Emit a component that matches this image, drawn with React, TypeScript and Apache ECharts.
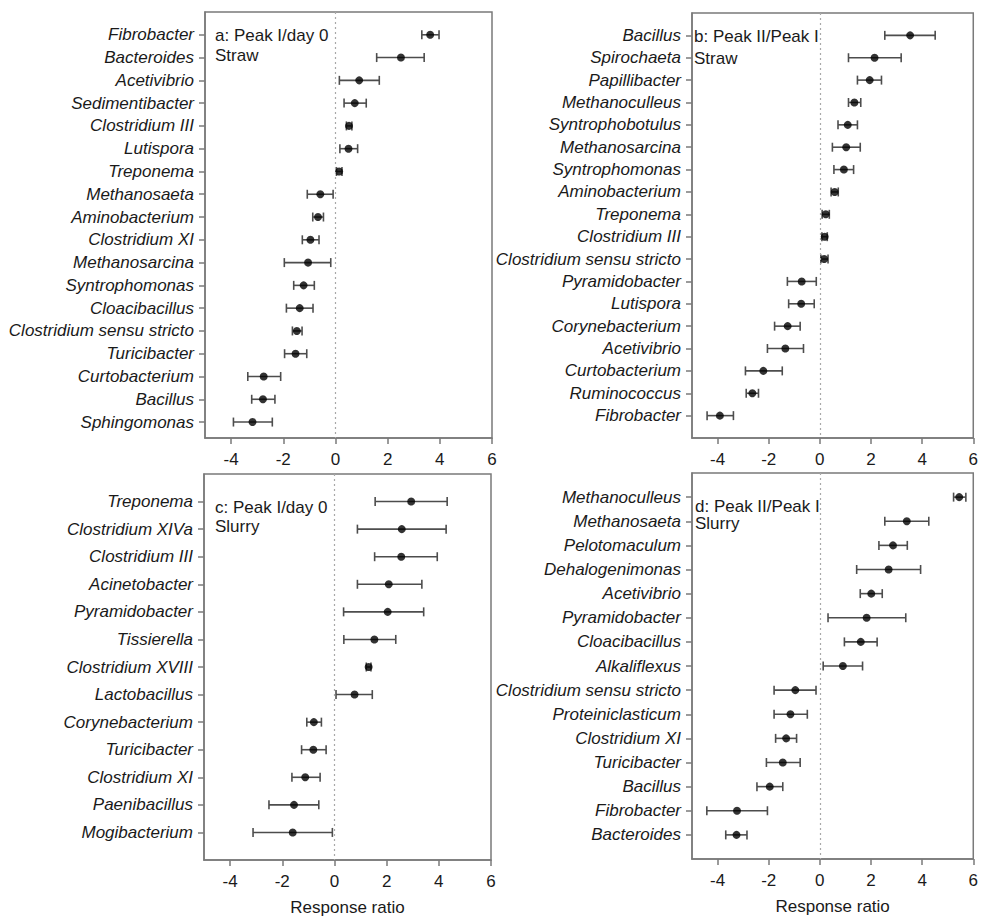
import React, { useEffect, useRef } from "react";
import * as echarts from "echarts";

// Panel a: Peak I/day 0, Straw
const aCats = ["Fibrobacter", "Bacteroides", "Acetivibrio", "Sedimentibacter", "Clostridium III", "Lutispora", "Treponema", "Methanosaeta", "Aminobacterium", "Clostridium XI", "Methanosarcina", "Syntrophomonas", "Cloacibacillus", "Clostridium sensu stricto", "Turicibacter", "Curtobacterium", "Bacillus", "Sphingomonas"];
const aMean = [3.63, 2.51, 0.91, 0.74, 0.52, 0.5, 0.14, -0.58, -0.67, -0.96, -1.05, -1.22, -1.37, -1.48, -1.53, -2.75, -2.78, -3.18];
const aLow = [3.31, 1.58, 0.15, 0.33, 0.42, 0.17, 0.04, -1.08, -0.87, -1.27, -1.96, -1.6, -1.88, -1.65, -1.95, -3.36, -3.21, -3.91];
const aHigh = [3.97, 3.4, 1.68, 1.18, 0.63, 0.85, 0.25, -0.09, -0.46, -0.63, -0.18, -0.81, -0.86, -1.28, -1.1, -2.1, -2.32, -2.42];

// Panel b: Peak II/Peak I, Straw
const bCats = ["Bacillus", "Spirochaeta", "Papillibacter", "Methanoculleus", "Syntrophobotulus", "Methanosarcina", "Syntrophomonas", "Aminobacterium", "Treponema", "Clostridium III", "Clostridium sensu stricto", "Pyramidobacter", "Lutispora", "Corynebacterium", "Acetivibrio", "Curtobacterium", "Ruminococcus", "Fibrobacter"];
const bMean = [3.53, 2.14, 1.95, 1.35, 1.09, 1.03, 0.94, 0.58, 0.23, 0.19, 0.17, -0.71, -0.73, -1.26, -1.35, -2.21, -2.64, -3.91];
const bLow = [2.54, 1.12, 1.47, 1.12, 0.71, 0.49, 0.55, 0.44, 0.09, 0.08, 0.04, -1.27, -1.22, -1.77, -2.05, -2.91, -2.88, -4.41];
const bHigh = [4.51, 3.18, 2.41, 1.6, 1.47, 1.58, 1.32, 0.72, 0.37, 0.29, 0.32, -0.14, -0.22, -0.77, -0.64, -1.47, -2.4, -3.38];

// Panel c: Peak I/day 0, Slurry
const cCats = ["Treponema", "Clostridium XIVa", "Clostridium III", "Acinetobacter", "Pyramidobacter", "Tissierella", "Clostridium XVIII", "Lactobacillus", "Corynebacterium", "Turicibacter", "Clostridium XI", "Paenibacillus", "Mogibacterium"];
const cMean = [2.94, 2.58, 2.56, 2.08, 2.04, 1.53, 1.31, 0.77, -0.79, -0.81, -1.12, -1.55, -1.6];
const cLow = [1.56, 0.88, 1.54, 0.88, 0.35, 0.36, 1.22, 0.06, -1.06, -1.26, -1.63, -2.51, -3.12];
const cHigh = [4.32, 4.28, 3.94, 3.35, 3.42, 2.35, 1.4, 1.45, -0.5, -0.32, -0.55, -0.6, -0.08];

// Panel d: Peak II/Peak I, Slurry
const dCats = ["Methanoculleus", "Methanosaeta", "Pelotomaculum", "Dehalogenimonas", "Acetivibrio", "Pyramidobacter", "Cloacibacillus", "Alkaliflexus", "Clostridium sensu stricto", "Proteiniclasticum", "Clostridium XI", "Turicibacter", "Bacillus", "Fibrobacter", "Bacteroides"];
const dMean = [5.45, 3.4, 2.86, 2.69, 2.01, 1.83, 1.6, 0.9, -0.96, -1.15, -1.32, -1.45, -1.96, -3.24, -3.26];
const dLow = [5.23, 2.54, 2.31, 1.44, 1.58, 0.32, 0.96, 0.13, -1.79, -1.79, -1.73, -2.09, -2.46, -4.42, -3.68];
const dHigh = [5.71, 4.26, 3.42, 3.94, 2.44, 3.36, 2.24, 1.67, -0.15, -0.49, -0.91, -0.77, -1.45, -2.05, -2.85];

const xTicks = [-4, -2, 0, 2, 4, 6];
const axisName = "Response ratio";

const FONT = "Liberation Sans, Arial, sans-serif";
const BOX = "#7a7a7a";

export default function App() {
  const ref = useRef<HTMLDivElement>(null);
  useEffect(() => {
    if (!ref.current) return;
    const chart = echarts.init(ref.current, null, { renderer: "svg" });

    const panels = [
      { cats: aCats, mean: aMean, low: aLow, high: aHigh, yMax: 17.7, grid: { left: 205, top: 12, width: 287, height: 426 }, name: false, label: "a: Peak I/day 0\nStraw", lx: 215, ly: 35, lh: 20 },
      { cats: bCats, mean: bMean, low: bLow, high: bHigh, yMax: 18, grid: { left: 692, top: 13, width: 286, height: 425 }, name: false, label: "b: Peak II/Peak I\nStraw", lx: 694, ly: 36, lh: 22 },
      { cats: cCats, mean: cMean, low: cLow, high: cHigh, yMax: 13, grid: { left: 204, top: 474, width: 287, height: 387 }, name: true, label: "c: Peak I/day 0\nSlurry", lx: 215, ly: 507, lh: 19 },
      { cats: dCats, mean: dMean, low: dLow, high: dHigh, yMax: 15, grid: { left: 692, top: 473, width: 286, height: 386 }, name: true, label: "d: Peak II/Peak I\nSlurry", lx: 695, ly: 506, lh: 17.5 },
    ];

    const grids: any[] = [];
    const xAxes: any[] = [];
    const yAxes: any[] = [];
    const series: any[] = [];
    const graphics: any[] = [];

    panels.forEach((p, k) => {
      grids.push({ ...p.grid, show: true, borderColor: BOX, borderWidth: 1.5, backgroundColor: "transparent", containLabel: false });
      xAxes.push({
        type: "value",
        gridIndex: k,
        min: -5,
        max: 6,
        axisLine: { show: true, onZero: false, lineStyle: { color: BOX, width: 1.5 } },
        axisTick: { show: true, customValues: xTicks, length: 6, lineStyle: { color: BOX, width: 1.5 } },
        axisLabel: { customValues: xTicks, fontSize: 17, color: "#1a1a1a", margin: 13, fontFamily: FONT },
        splitLine: { show: false },
        name: p.name ? axisName : "",
        nameLocation: "middle",
        nameGap: 39,
        nameTextStyle: { fontSize: 17, color: "#1a1a1a", fontFamily: FONT },
      });
      const idx = p.cats.map((_, i) => i);
      yAxes.push({
        type: "value",
        gridIndex: k,
        inverse: true,
        min: -1,
        max: p.yMax,
        axisLine: { show: true, onZero: false, lineStyle: { color: BOX, width: 1.5 } },
        axisTick: { show: true, customValues: idx, length: 6, lineStyle: { color: BOX, width: 1.5 } },
        axisLabel: {
          customValues: idx,
          formatter: (v: number) => p.cats[Math.round(v)] ?? "",
          fontSize: 17,
          fontStyle: "italic",
          color: "#1a1a1a",
          margin: 11,
          fontFamily: FONT,
        },
        splitLine: { show: false },
      });
      series.push({
        type: "custom",
        xAxisIndex: k,
        yAxisIndex: k,
        data: p.low.map((l, i) => [l, p.high[i], i]),
        encode: { x: [0, 1], y: 2 },
        renderItem: (params: any, api: any) => {
          const y = api.value(2);
          const a = api.coord([api.value(0), y]);
          const b = api.coord([api.value(1), y]);
          const st = { stroke: "#4d4d4d", lineWidth: 1.6 };
          const h = 4.5;
          return {
            type: "group",
            children: [
              { type: "line", shape: { x1: a[0], y1: a[1], x2: b[0], y2: b[1] }, style: st },
              { type: "line", shape: { x1: a[0], y1: a[1] - h, x2: a[0], y2: a[1] + h }, style: st },
              { type: "line", shape: { x1: b[0], y1: b[1] - h, x2: b[0], y2: b[1] + h }, style: st },
            ],
          };
        },
        z: 3,
      });
      series.push({
        type: "scatter",
        xAxisIndex: k,
        yAxisIndex: k,
        data: p.mean.map((m, i) => [m, i]),
        symbol: "circle",
        symbolSize: 8,
        itemStyle: { color: "#000" },
        z: 4,
        markLine: {
          silent: true,
          symbol: "none",
          label: { show: false },
          lineStyle: { color: "#a8a8a8", type: [2, 3], width: 1.2 },
          data: [{ xAxis: 0 }],
        },
      });
      graphics.push({
        type: "text",
        x: p.lx,
        y: p.ly - p.lh / 2,
        style: { text: p.label, font: `17px ${FONT}`, fill: "#1a1a1a", verticalAlign: "top", lineHeight: p.lh },
      });
    });

    chart.setOption({
      animation: false,
      backgroundColor: "#fff",
      grid: grids,
      xAxis: xAxes,
      yAxis: yAxes,
      series,
      graphic: graphics,
    });
    return () => chart.dispose();
  }, []);
  return <div ref={ref} style={{ position: "absolute", left: 0, top: 0, width: 981, height: 917 }} />;
}
